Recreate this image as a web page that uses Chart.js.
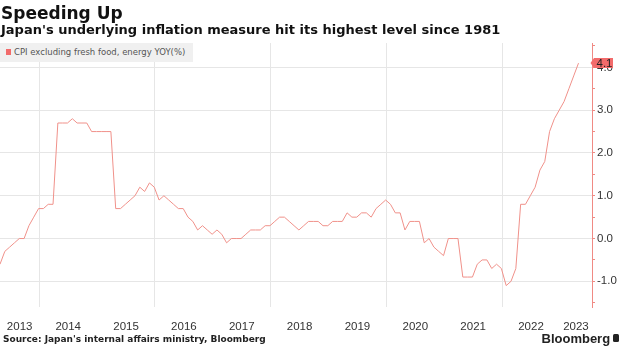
<!DOCTYPE html>
<html>
<head>
<meta charset="utf-8">
<script src="https://cdn.jsdelivr.net/npm/chart.js"></script>
<style>
html,body{margin:0;padding:0;background:#fff;}
#wrap{position:relative;width:620px;height:348px;overflow:hidden;background:#fff;}
#chartBox{position:absolute;left:0;top:0;width:620px;height:348px;}
.t{position:absolute;white-space:nowrap;}
#title{left:1px;top:4.6px;font:bold 17px/17px "DejaVu Sans";color:#111;}
#subtitle{left:1px;top:23.3px;font:bold 13px/13px "DejaVu Sans";color:#111;}
#legend{position:absolute;left:0;top:42.7px;width:193px;height:19.6px;background:#f0f0f0;z-index:2;}
#legend .sw{position:absolute;left:5.5px;top:6.6px;width:5.5px;height:5.5px;background:#f26b6b;}
#legend .lt{position:absolute;left:14px;top:5.4px;font:8.5px/8.5px "DejaVu Sans";color:#555;white-space:nowrap;}
#source{left:3px;top:335.4px;font:bold 9px/9px "DejaVu Sans";color:#222;}
#brand{left:541.5px;top:332px;font:bold 13px/13px "Liberation Sans";color:#222;}
#icon{position:absolute;left:613px;top:334px;width:6px;height:8px;background:#222;border-radius:1.5px;}
</style>
</head>
<body>
<div id="wrap">
  <div id="chartBox"><canvas id="c"></canvas></div>
  <div class="t" id="title">Speeding Up</div>
  <div class="t" id="subtitle">Japan's underlying inflation measure hit its highest level since 1981</div>
  <div id="legend"><div class="sw"></div><div class="lt">CPI excluding fresh food, energy YOY(%)</div></div>
  <div class="t" id="source">Source: Japan's internal affairs ministry, Bloomberg</div>
  <div class="t" id="brand">Bloomberg</div>
  <div id="icon"></div>
</div>
<script>
// ---- Data (monthly, YoY %), first month = April 2013 ----
const firstYear = 2013;
const firstMonth = 4;
const cpi2013 = [-0.6, -0.3, -0.2, -0.1, 0.0, 0.0, 0.3, 0.5, 0.7];          // Apr-Dec
const cpi2014 = [0.7, 0.8, 0.8, 2.7, 2.7, 2.7, 2.8, 2.7, 2.7, 2.7, 2.5, 2.5];
const cpi2015 = [2.5, 2.5, 2.5, 0.7, 0.7, 0.8, 0.9, 1.0, 1.2, 1.1, 1.3, 1.2];
const cpi2016 = [0.9, 1.0, 0.9, 0.8, 0.7, 0.7, 0.5, 0.4, 0.2, 0.3, 0.2, 0.1];
const cpi2017 = [0.2, 0.1, -0.1, 0.0, 0.0, 0.0, 0.1, 0.2, 0.2, 0.2, 0.3, 0.3];
const cpi2018 = [0.4, 0.5, 0.5, 0.4, 0.3, 0.2, 0.3, 0.4, 0.4, 0.4, 0.3, 0.3];
const cpi2019 = [0.4, 0.4, 0.4, 0.6, 0.5, 0.5, 0.6, 0.6, 0.5, 0.7, 0.8, 0.9];
const cpi2020 = [0.8, 0.6, 0.6, 0.2, 0.4, 0.4, 0.4, -0.1, 0.0, -0.2, -0.3, -0.4];
const cpi2021 = [0.0, 0.0, 0.0, -0.9, -0.9, -0.9, -0.6, -0.5, -0.5, -0.7, -0.6, -0.7];
const cpi2022 = [-1.1, -1.0, -0.7, 0.8, 0.8, 1.0, 1.2, 1.6, 1.8, 2.5, 2.8, 3.0];
const cpi2023 = [3.2, 3.5, 3.8, 4.1];                                      // Jan-Apr

const seriesLabel = "CPI excluding fresh food, energy YOY(%)";
const yearLabels = ['2013','2014','2015','2016','2017','2018','2019','2020','2021','2022','2023'];
const gridYears = ['2014','2016','2018','2020','2022'];
const yTickValues = [-1.5, -1, -0.5, 0, 0.5, 1, 1.5, 2, 2.5, 3, 3.5, 4, 4.5];

// ---- Build ----
const values = [].concat(cpi2013, cpi2014, cpi2015, cpi2016, cpi2017, cpi2018,
                         cpi2019, cpi2020, cpi2021, cpi2022, cpi2023);
const months = values.map((v, i) => {
  const m = firstMonth - 1 + i;
  const y = firstYear + Math.floor(m / 12);
  return y + '-' + String((m % 12) + 1).padStart(2, '0');
});
const points = values.map((v, i) => ({x: i, y: v}));

const X_MIN = 0, X_MAX = 122.8;
// index position of 1 Jan of a year (data points sit at month end)
const yearStart = y => (y - firstYear) * 12 - (firstMonth - 1) - 0.85;

const xTickValues = [], xTickText = [], xGridValues = new Set();
yearLabels.forEach(lbl => {
  const y = +lbl;
  const s = Math.max(X_MIN, yearStart(y));
  const e = Math.min(X_MAX, yearStart(y + 1));
  if (yearStart(y) > X_MIN) {
    xTickValues.push(yearStart(y)); xTickText.push('');
    if (gridYears.includes(lbl)) xGridValues.add(yearStart(y));
  }
  xTickValues.push((s + e) / 2); xTickText.push(lbl);
});

const isInt = v => Math.abs(v - Math.round(v)) < 1e-9;
const RED = '#f26b6b';
const AXIS_RED = '#f08a84';
const GRID = '#e6e6e6';
const tickFont = {family: 'Liberation Sans', size: 11.5};

const lastLabel = {
  id: 'lastLabel',
  afterDraw(chart) {
    const ys = chart.scales.y;
    const area = chart.chartArea;
    const v = values[values.length - 1];
    const py = ys.getPixelForValue(v);
    const ctx = chart.ctx;
    const x0 = area.right - 1.5, x1 = area.right + 2, x2 = area.right + 21, h = 5;
    ctx.save();
    ctx.fillStyle = RED;
    ctx.beginPath();
    ctx.moveTo(x0, py);
    ctx.lineTo(x1, py - h);
    ctx.lineTo(x2, py - h);
    ctx.lineTo(x2, py + h);
    ctx.lineTo(x1, py + h);
    ctx.closePath();
    ctx.fill();
    ctx.fillStyle = '#222';
    ctx.font = '11.5px "Liberation Sans"';
    ctx.textBaseline = 'middle';
    ctx.textAlign = 'left';
    ctx.fillText(v.toFixed(1), area.right + 4.5, py + 0.5);
    ctx.restore();
  }
};

new Chart(document.getElementById('c'), {
  type: 'line',
  data: {
    labels: months,
    datasets: [{
      label: seriesLabel,
      data: points,
      borderColor: '#f0918a',
      borderWidth: 1,
      pointRadius: 0,
      tension: 0,
      fill: false
    }]
  },
  options: {
    responsive: true,
    maintainAspectRatio: false,
    animation: false,
    devicePixelRatio: 1,
    layout: {padding: {top: 43, left: 0, right: 0, bottom: 0}},
    plugins: {legend: {display: false}, title: {display: false}, tooltip: {enabled: false}},
    scales: {
      x: {
        type: 'linear',
        min: X_MIN, max: X_MAX,
        afterBuildTicks: s => { s.ticks = xTickValues.map(v => ({value: v})); },
        afterFit: s => { s.height = 41; s.paddingLeft = 0; s.paddingRight = 0; },
        grid: {
          color: c => (c.tick && xGridValues.has(c.tick.value)) ? GRID : 'rgba(0,0,0,0)',
          drawTicks: false,
          lineWidth: 1
        },
        border: {display: false},
        ticks: {
          autoSkip: false, maxRotation: 0, minRotation: 0,
          callback: (v, i) => xTickText[i],
          padding: 13,
          color: '#333',
          font: tickFont
        }
      },
      y: {
        position: 'right',
        min: -1.6, max: 4.57,
        afterBuildTicks: s => { s.ticks = yTickValues.map(v => ({value: v})); },
        afterFit: s => { s.width = 28; s.paddingTop = 0; s.paddingBottom = 0; },
        grid: {
          color: c => (c.tick && isInt(c.tick.value)) ? GRID : 'rgba(0,0,0,0)',
          tickColor: AXIS_RED,
          tickLength: 3,
          drawTicks: true,
          lineWidth: 1
        },
        border: {display: true, color: AXIS_RED, width: 1},
        ticks: {
          callback: v => isInt(v) ? v.toFixed(1) : '',
          color: '#333',
          font: tickFont,
          padding: 2
        }
      }
    }
  },
  plugins: [lastLabel]
});
</script>
</body>
</html>
